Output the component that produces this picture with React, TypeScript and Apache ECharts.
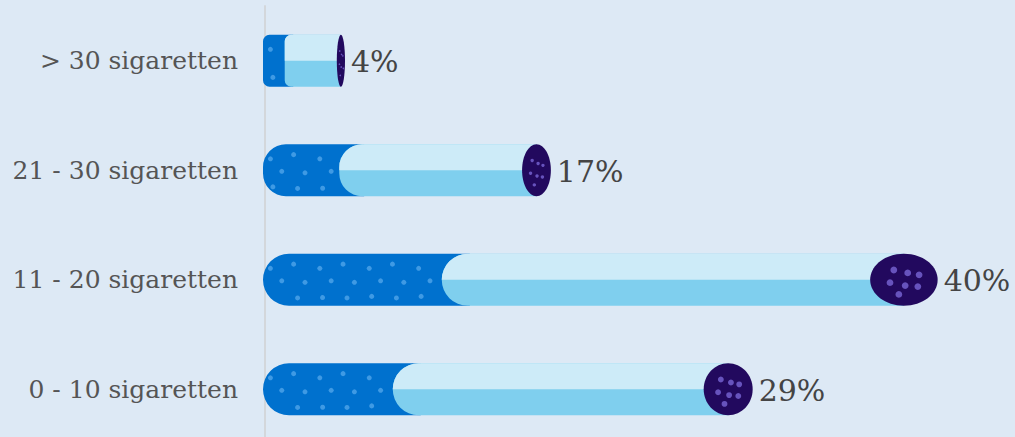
import React, { useEffect, useRef } from "react";
import * as echarts from "echarts";

const categories = ["> 30 sigaretten", "21 - 30 sigaretten", "11 - 20 sigaretten", "0 - 10 sigaretten"];
const percentages = [4, 17, 40, 29];

// decorative texture (fractions of a tile / of the tip ellipse)
const FILTER_DOTS = [
  [0.15, 0.28], [0.62, 0.2], [0.38, 0.52], [0.85, 0.55], [0.2, 0.82], [0.7, 0.85],
];
const TIP_DOTS = [
  [-0.4, -0.5], [0.15, -0.35], [0.6, -0.25], [-0.55, 0.15], [0.05, 0.3], [0.55, 0.35], [-0.2, 0.75],
];

const BG = "#dde9f5";

export default function App() {
  const ref = useRef<HTMLDivElement>(null);
  useEffect(() => {
    document.body.style.margin = "0";
    document.body.style.overflow = "hidden";
    document.documentElement.style.overflow = "hidden";
    const chart = echarts.init(ref.current!, null, { renderer: "svg" });
    const renderItem = (params: any, api: any) => {
      const i = api.value(0);
      const v = api.value(1);
      const start = api.coord([0, i]);
      const end = api.coord([v, i]);
      const band = api.size([0, 1])[1];
      const h = band * 0.475;
      const cy = start[1];
      const top = cy - h / 2;
      const x0 = start[0] - 2;
      const len = Math.max(end[0] - x0, 82);
      const fw = len * 0.265;
      const tw = len * 0.1;
      const bx = x0 + fw;
      const tx = x0 + len - tw;
      const rf = Math.min(h / 2, fw * 0.3);
      const rb = Math.min(h / 2, fw * 0.3);
      const children: any[] = [];
      children.push({
        type: "rect",
        shape: { x: x0, y: top, width: fw + rb + 2, height: h, r: [rf, 0, 0, rf] },
        style: { fill: "#0071ce" },
      });
      const tile = h * 0.95;
      const dr = Math.max(1.3, h * 0.048);
      for (let k = 0; k * tile < fw; k++) {
        for (const [fx, fy] of FILTER_DOTS) {
          const dx = x0 + k * tile + fx * tile;
          const dy = top + fy * h;
          if (dx < x0 + 4 || dx > bx - 4) continue;
          if (dx < x0 + rf) {
            const ex = (dx - (x0 + rf)) / rf;
            const ey = (dy - cy) / (h / 2);
            if (ex * ex + ey * ey > 0.75) continue;
          }
          children.push({
            type: "circle",
            shape: { cx: dx, cy: dy, r: dr },
            style: { fill: "#3f9ae4" },
          });
        }
      }
      const bodyW = tx + tw / 2 - bx;
      children.push({
        type: "rect",
        shape: { x: bx, y: top, width: bodyW, height: h, r: [rb, 0, 0, rb] },
        style: { fill: "#7fcfee" },
      });
      children.push({
        type: "rect",
        shape: { x: bx, y: top, width: bodyW, height: h * 0.5, r: [rb, 0, 0, 0] },
        style: { fill: "#cdebf8" },
      });
      const rx = tw / 2;
      const ry = h / 2;
      const tcx = tx + rx;
      children.push({
        type: "ellipse",
        shape: { cx: tcx, cy, rx, ry },
        style: { fill: "#22095e" },
      });
      const tr = Math.max(0.8, Math.min(3.4, rx * 0.12));
      for (const [fx, fy] of TIP_DOTS) {
        children.push({
          type: "circle",
          shape: { cx: tcx + fx * rx * 0.75, cy: cy + fy * ry * 0.75, r: tr },
          style: { fill: "#6753bd" },
        });
      }
      children.push({
        type: "text",
        style: {
          text: v + "%",
          x: x0 + len + 6,
          y: cy + 1,
          verticalAlign: "middle",
          align: "left",
          fontFamily: "DejaVu Serif",
          fontSize: 30,
          fill: "#444444",
        },
      });
      return { type: "group", children };
    };

    chart.setOption({
      animation: false,
      backgroundColor: BG,
      grid: { left: 265, right: 0, top: 6, bottom: 0, containLabel: false },
      xAxis: { type: "value", min: 0, max: 44.6, show: false },
      yAxis: {
        type: "category",
        data: categories,
        inverse: true,
        axisTick: { show: false },
        axisLine: { show: true, lineStyle: { color: "#d3d7db", width: 2 } },
        axisLabel: {
          fontFamily: "DejaVu Serif",
          fontSize: 25,
          color: "#555555",
          margin: 27,
        },
      },
      series: [
        {
          type: "custom",
          coordinateSystem: "cartesian2d",
          encode: { x: 1, y: 0 },
          data: percentages.map((v, i) => [i, v]),
          renderItem,
        },
      ],
    });
    return () => chart.dispose();
  }, []);
  return (
    <div
      ref={ref}
      style={{ position: "absolute", left: 0, top: 0, width: 1015, height: 444, background: BG }}
    />
  );
}
